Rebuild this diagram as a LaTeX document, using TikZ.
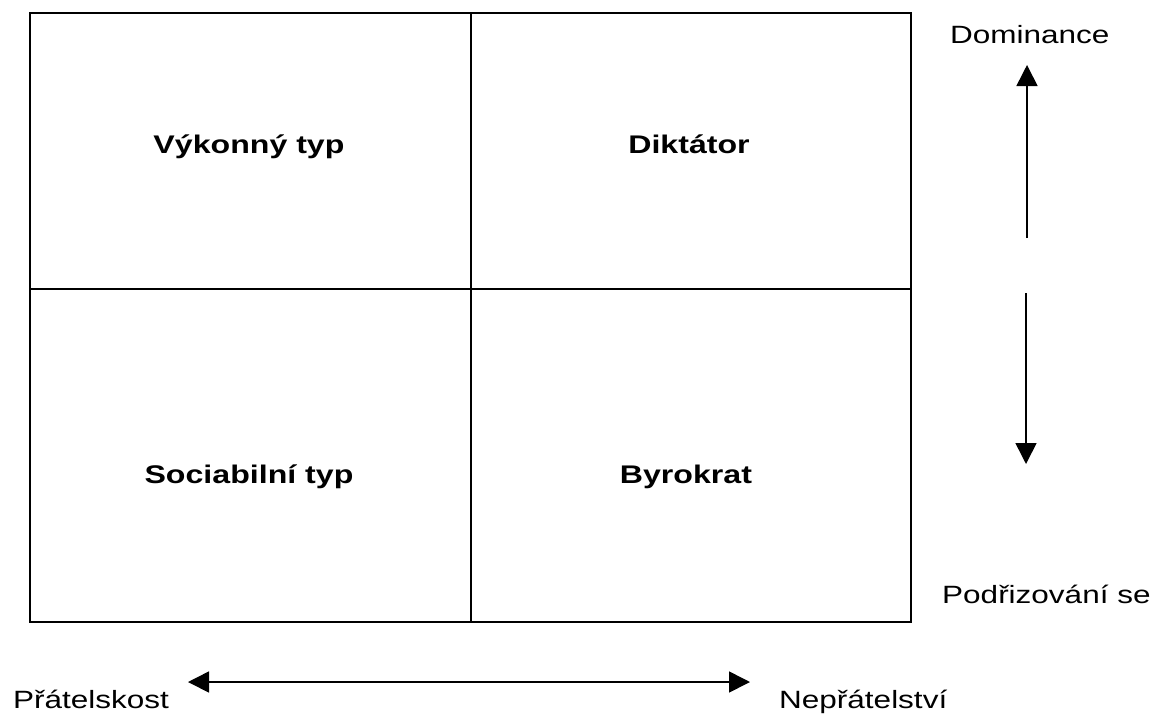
\documentclass[tikz,border=0pt]{standalone}
\usepackage{fontspec}
\newfontfamily\labfont{Liberation Sans}[FakeStretch=1.26]
\usetikzlibrary{arrows.meta}
\begin{document}
\begin{tikzpicture}[x=1pt,y=-1pt,
  gridline/.style={line width=1.3pt},
  axisarrow/.style={line width=1.6pt,-{Triangle[length=21pt,width=21pt]}},
  biarrow/.style={line width=1.6pt,{Triangle[length=21pt,width=21pt]}-{Triangle[length=21pt,width=21pt]}},
  quad/.style={anchor=base,inner sep=0pt,font=\labfont\fontsize{25.5}{29}\selectfont\bfseries},
  axislab/.style={anchor=base west,inner sep=0pt,font=\labfont\fontsize{25}{29}\selectfont}]
\useasboundingbox (0,0) rectangle (1153,713);
% grid
\coordinate (tl) at (30,13);
\coordinate (br) at (911,622);
\coordinate (mt) at (471,13);
\coordinate (mb) at (471,622);
\coordinate (ml) at (30,289);
\coordinate (mr) at (911,289);
\draw[gridline] (tl) rectangle (br);
\draw[gridline] (mt) -- (mb);
\draw[gridline] (ml) -- (mr);
% quadrant labels
\node[quad] (vykon) at (249,153) {Výkonný typ};
\node[quad] (dikt) at (689,153) {Diktátor};
\node[quad] (soc) at (249,483) {Sociabilní typ};
\node[quad] (byro) at (686,483) {Byrokrat};
% axis labels
\node[axislab] (dom) at (950,43) {Dominance};
\node[axislab] (podr) at (942,603) {Podřizování se};
\node[axislab] (prat) at (13,708) {Přátelskost};
\node[axislab] (neprat) at (779,708) {Nepřátelství};
% arrows
\coordinate (upS) at (1027,238);
\coordinate (upE) at (1027,65);
\coordinate (dnS) at (1026,293);
\coordinate (dnE) at (1026,464);
\coordinate (hL) at (188,682);
\coordinate (hR) at (750,682);
\draw[axisarrow] (upS) -- (upE);
\draw[axisarrow] (dnS) -- (dnE);
\draw[biarrow] (hL) -- (hR);
\end{tikzpicture}
\end{document}
